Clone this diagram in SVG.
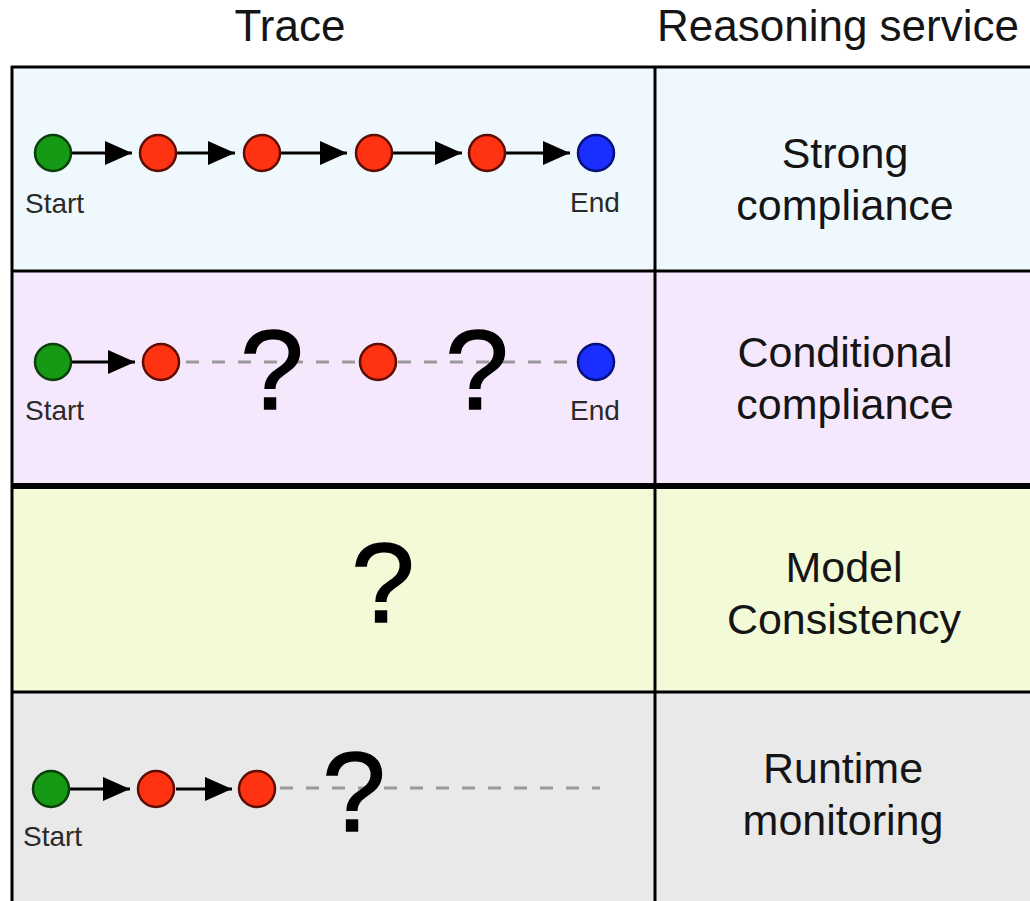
<svg xmlns="http://www.w3.org/2000/svg" width="1030" height="901" viewBox="0 0 1030 901">
<defs>
<style>
text{font-family:"Liberation Sans",Arial,sans-serif;fill:#151515}
.hdr{font-size:44px;text-anchor:middle}
.svc{font-size:43px;text-anchor:middle}
.lbl{font-size:28px;fill:#2a2a2a}
.q{font-size:114px;text-anchor:middle;fill:#000;stroke:#000;stroke-width:1.5}
.grid{stroke:#000;stroke-width:3;fill:none}
.arrow{stroke:#000;stroke-width:3;fill:none;marker-end:url(#ah)}
.dash{stroke:#9a9a9a;stroke-width:3;stroke-dasharray:13 13;fill:none}
.start{fill:#169a16;stroke:#0b3f0b;stroke-width:2.5}
.mid{fill:#ff3312;stroke:#5e0d05;stroke-width:2.5}
.end{fill:#1a2eff;stroke:#06107a;stroke-width:2.5}
</style>
<marker id="ah" markerUnits="userSpaceOnUse" markerWidth="28" markerHeight="24" refX="27" refY="12" orient="auto">
<path d="M0,0 L27,12 L0,24 z" fill="#000"/>
</marker>
</defs>
<rect width="1030" height="901" fill="#ffffff"/>
<g id="backgrounds">
<rect x="12" y="67" width="1018" height="204" fill="#eff9fd"/>
<rect x="12" y="271" width="1018" height="214" fill="#f6e8fc"/>
<rect x="12" y="485" width="1018" height="207" fill="#f2fad8"/>
<rect x="12" y="692" width="1018" height="209" fill="#e9e9e9"/>
</g>
<g id="grid">
<line class="grid" x1="11" y1="67" x2="1030" y2="67"/>
<line class="grid" x1="12" y1="66" x2="12" y2="901"/>
<line class="grid" x1="655" y1="66" x2="655" y2="901"/>
<line class="grid" x1="11" y1="271" x2="1030" y2="271"/>
<line class="grid" x1="11" y1="486" x2="1030" y2="486" style="stroke-width:6"/>
<line class="grid" x1="11" y1="692" x2="1030" y2="692"/>
</g>
<g id="headers">
<text class="hdr" x="290" y="41">Trace</text>
<text class="hdr" x="838" y="41">Reasoning service</text>
</g>
<g id="connectors">
<line class="arrow" x1="72" y1="153" x2="132" y2="153"/>
<line class="arrow" x1="177" y1="153" x2="235" y2="153"/>
<line class="arrow" x1="281" y1="153" x2="347" y2="153"/>
<line class="arrow" x1="393" y1="153" x2="462" y2="153"/>
<line class="arrow" x1="506" y1="153" x2="570" y2="153"/>
<line class="arrow" x1="72" y1="362" x2="135" y2="362"/>
<line class="dash" x1="186" y1="362" x2="359" y2="362"/>
<line class="dash" x1="398" y1="362" x2="577" y2="362"/>
<line class="arrow" x1="70" y1="789" x2="130" y2="789"/>
<line class="arrow" x1="176" y1="789" x2="232" y2="789"/>
<line class="dash" x1="280" y1="788" x2="600" y2="788"/>
</g>
<g id="row1-trace">
<circle class="start" cx="53" cy="153" r="18"/>
<circle class="mid" cx="158" cy="153" r="18"/>
<circle class="mid" cx="262" cy="153" r="18"/>
<circle class="mid" cx="374" cy="153" r="18"/>
<circle class="mid" cx="487" cy="153" r="18"/>
<circle class="end" cx="596" cy="153" r="18"/>
<text class="lbl" x="25" y="213">Start</text>
<text class="lbl" x="570" y="212">End</text>
</g>
<g id="row1-service">
<text class="svc" x="845" y="168">Strong</text>
<text class="svc" x="845" y="220">compliance</text>
</g>
<g id="row2-trace">
<circle class="start" cx="53" cy="362" r="18"/>
<circle class="mid" cx="161" cy="362" r="18"/>
<circle class="mid" cx="378" cy="362" r="18"/>
<circle class="end" cx="596" cy="362" r="18"/>
<text class="q" x="272" y="409">?</text>
<text class="q" x="477" y="409">?</text>
<text class="lbl" x="25" y="420">Start</text>
<text class="lbl" x="570" y="420">End</text>
</g>
<g id="row2-service">
<text class="svc" x="845" y="367">Conditional</text>
<text class="svc" x="845" y="419">compliance</text>
</g>
<g id="row3-trace">
<text class="q" x="383" y="622">?</text>
</g>
<g id="row3-service">
<text class="svc" x="844" y="582">Model</text>
<text class="svc" x="844" y="634">Consistency</text>
</g>
<g id="row4-trace">
<circle class="start" cx="51" cy="789" r="18"/>
<circle class="mid" cx="156" cy="789" r="18"/>
<circle class="mid" cx="257" cy="789" r="18"/>
<text class="q" x="354" y="831">?</text>
<text class="lbl" x="23" y="846">Start</text>
</g>
<g id="row4-service">
<text class="svc" x="843" y="783">Runtime</text>
<text class="svc" x="843" y="835">monitoring</text>
</g>
</svg>
